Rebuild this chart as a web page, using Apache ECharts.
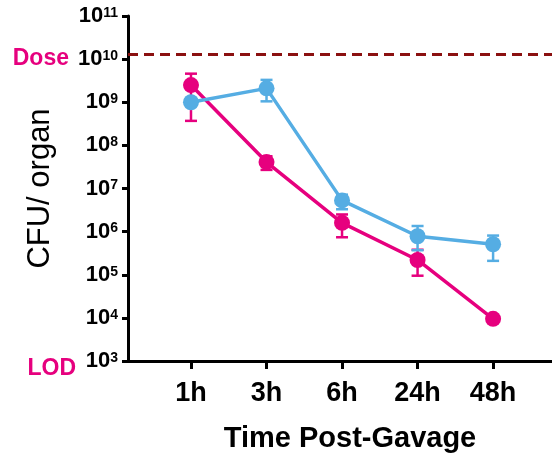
<!DOCTYPE html>
<html>
<head>
<meta charset="utf-8">
<script src="https://cdn.jsdelivr.net/npm/echarts@6/dist/echarts.min.js"></script>
<style>
html,body{margin:0;padding:0;background:#fff;}
#chart{width:552px;height:458px;}
</style>
</head>
<body>
<div id="chart"></div>
<script>
// ---- data ----
const categories = ['1h', '3h', '6h', '24h', '48h'];
const pinkValues = [2.5e9, 4.1e7, 1.6e6, 2.2e5, 9.5e3];
const pinkLow    = [3.7e8, 2.7e7, 7.4e5, 9.5e4, null];
const pinkHigh   = [4.6e9, 5.6e7, 2.5e6, 3.8e5, null];
const blueValues = [1.0e9, 2.1e9, 5.3e6, 7.8e5, 5.1e5];
const blueLow    = [8.5e8, 1.05e9, 3.3e6, 3.7e5, 2.1e5];
const blueHigh   = [1.25e9, 3.3e9, 7.2e6, 1.35e6, 8.1e5];
const yTicks = [1e3, 1e4, 1e5, 1e6, 1e7, 1e8, 1e9, 1e10, 1e11];
const doseLevel = 1.3e10;

const PINK = '#E6007E';
const BLUE = '#55ADE3';
const FONT = '"Liberation Sans", Arial, sans-serif';
const xPos = categories.map((c, i) => i + 1);

function pts(vals) { return vals.map((v, i) => [xPos[i], v]); }
function errs(lo, hi) {
  const out = [];
  lo.forEach((l, i) => { if (l != null && hi[i] != null) out.push([xPos[i], l, hi[i]]); });
  return out;
}
function errRender(color) {
  return function (params, api) {
    const x = api.value(0);
    const pLo = api.coord([x, api.value(1)]);
    const pHi = api.coord([x, api.value(2)]);
    const hw = 6;
    const st = { stroke: color, lineWidth: 2.5 };
    return {
      type: 'group',
      children: [
        { type: 'line', shape: { x1: pHi[0], y1: pHi[1], x2: pLo[0], y2: pLo[1] }, style: st },
        { type: 'line', shape: { x1: pHi[0] - hw, y1: pHi[1], x2: pHi[0] + hw, y2: pHi[1] }, style: st },
        { type: 'line', shape: { x1: pLo[0] - hw, y1: pLo[1], x2: pLo[0] + hw, y2: pLo[1] }, style: st }
      ]
    };
  };
}

const chart = echarts.init(document.getElementById('chart'));
chart.setOption({
  animation: false,
  backgroundColor: '#fff',
  grid: { left: 128, right: 0, top: 16, bottom: 93, containLabel: false },
  xAxis: {
    type: 'value',
    min: 0.166, max: 5.78,
    name: 'Time Post-Gavage',
    nameLocation: 'middle',
    nameGap: 63,
    nameTextStyle: { fontFamily: FONT, fontWeight: 'bold', fontSize: 29, color: '#000', padding: [0, 0, 0, 20] },
    splitLine: { show: false },
    axisLine: { show: true, onZero: false, lineStyle: { color: '#000', width: 3 } },
    axisTick: { show: true, length: 8, customValues: xPos, lineStyle: { color: '#000', width: 3 } },
    axisLabel: {
      customValues: xPos,
      margin: 19,
      formatter: v => categories[Math.round(v) - 1] || '',
      fontFamily: FONT, fontWeight: 'bold', fontSize: 27, color: '#000'
    }
  },
  yAxis: {
    type: 'log',
    logBase: 10,
    min: 1e3, max: 1e11,
    name: 'CFU/ organ',
    nameLocation: 'middle',
    nameGap: 72,
    nameTextStyle: { fontFamily: FONT, fontSize: 31, color: '#000' },
    splitLine: { show: false },
    axisLine: { show: true, lineStyle: { color: '#000', width: 3 } },
    axisTick: { show: true, length: 6, customValues: yTicks, lineStyle: { color: '#000', width: 3 } },
    axisLabel: {
      customValues: yTicks,
      margin: 10,
      formatter: v => '{b|10}{s|' + Math.round(Math.log10(v)) + '}',
      rich: {
        b: { fontFamily: FONT, fontWeight: 'bold', fontSize: 22, color: '#000', lineHeight: 20 },
        s: { fontFamily: FONT, fontWeight: 'bold', fontSize: 14, color: '#000', verticalAlign: 'top', lineHeight: 12 }
      }
    }
  },
  graphic: [
    { type: 'text', x: 69, y: 59, style: { text: 'Dose', fill: PINK, font: 'bold 23px ' + FONT, textAlign: 'right', textVerticalAlign: 'middle' } },
    { type: 'text', x: 76, y: 369, style: { text: 'LOD', fill: PINK, font: 'bold 23px ' + FONT, textAlign: 'right', textVerticalAlign: 'middle' } }
  ],
  series: [
    {
      type: 'custom', name: 'pinkErr', renderItem: errRender(PINK),
      data: errs(pinkLow, pinkHigh), encode: { x: 0, y: [1, 2] }, z: 2
    },
    {
      type: 'line', name: 'pink', data: pts(pinkValues),
      symbol: 'circle', symbolSize: 16,
      lineStyle: { color: PINK, width: 3.5 },
      itemStyle: { color: PINK },
      z: 3,
      markLine: {
        silent: true, symbol: 'none',
        label: { show: false },
        lineStyle: { color: '#8B1010', width: 3, type: [10, 6] },
        data: [{ yAxis: doseLevel }]
      }
    },
    {
      type: 'custom', name: 'blueErr', renderItem: errRender(BLUE),
      data: errs(blueLow, blueHigh), encode: { x: 0, y: [1, 2] }, z: 4
    },
    {
      type: 'line', name: 'blue', data: pts(blueValues),
      symbol: 'circle', symbolSize: 16,
      lineStyle: { color: BLUE, width: 3.5 },
      itemStyle: { color: BLUE },
      z: 5
    }
  ]
});
</script>
</body>
</html>
